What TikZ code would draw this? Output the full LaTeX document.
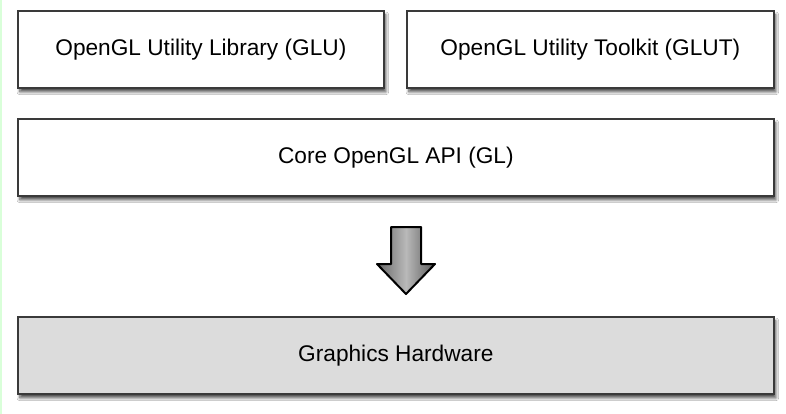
\documentclass[tikz,border=0pt]{standalone}
\usepackage{fontspec}
\setmainfont{Liberation Sans}
\usetikzlibrary{shadows.blur}
\definecolor{edgec}{HTML}{3A3A3A}
\definecolor{hwfill}{HTML}{DCDCDC}
\begin{document}
\begin{tikzpicture}[x=0.75pt,y=-0.75pt,
  layerbox/.style={draw=edgec, line width=1.3pt, fill=white, anchor=north west, inner sep=0pt,
    font=\fontsize{17}{20}\selectfont,
    blur shadow={shadow xshift=1.5pt, shadow yshift=-3pt, shadow blur steps=8, shadow opacity=70}},
  arrowshape/.style={draw=black, line width=1.5pt, line join=round,
    left color=gray!80!black, right color=gray!70!black, middle color=gray!55!white}]
\useasboundingbox (0,0) rectangle (786,414);
\fill[white] (0,0) rectangle (786,414);
\draw[green!15, line width=1.5pt] (1,0) -- (1,414);
\node[layerbox, minimum width=366*0.75pt, minimum height=77*0.75pt] (glu) at (17,10) {OpenGL Utility Library (GLU)};
\node[layerbox, minimum width=367*0.75pt, minimum height=77*0.75pt] (glut) at (406,10) {OpenGL Utility Toolkit (GLUT)};
\node[layerbox, minimum width=756*0.75pt, minimum height=77*0.75pt] (core) at (17,118) {Core OpenGL API (GL)};
\node[layerbox, fill=hwfill, minimum width=756*0.75pt, minimum height=77*0.75pt] (hw) at (17,316) {Graphics Hardware};
\draw[arrowshape] (391,227) -- (421,227) -- (421,264) -- (435,264) -- (406,294) -- (377,264) -- (391,264) -- cycle;
\end{tikzpicture}
\end{document}
